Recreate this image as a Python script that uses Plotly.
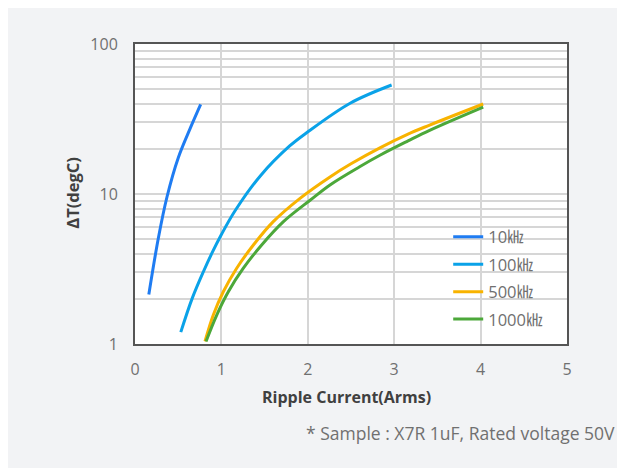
import plotly.graph_objects as go

# ripple current (Arms) vs temperature rise (degC)
i_10k = [0.16, 0.27, 0.37, 0.50, 0.64, 0.76]
t_10k = [2.14, 5.07, 9.55, 17.4, 27.5, 39.6]

i_100k = [0.53, 0.66, 0.79, 0.89, 1.00, 1.16, 1.45, 1.79, 1.99, 2.49, 2.97]
t_100k = [1.20, 2.0, 3.02, 4.03, 5.37, 7.76, 13.2, 20.9, 25.7, 40.3, 53.3]

i_500k = [0.81, 0.906, 1.022, 1.177, 1.37, 1.60, 1.91, 2.257, 2.50, 2.84, 3.16, 3.41, 4.03]
t_500k = [1.04, 1.56, 2.23, 3.2, 4.57, 6.54, 9.36, 13.0, 15.9, 20.4, 25.1, 28.8, 39.8]

i_1000k = [0.822, 0.946, 1.08, 1.254, 1.466, 1.718, 2.03, 2.257, 2.60, 2.84, 3.16, 3.41, 4.03]
t_1000k = [1.04, 1.56, 2.23, 3.2, 4.57, 6.54, 9.12, 11.5, 15.2, 18.2, 22.6, 26.6, 38.0]

names = ["10㎑", "100㎑", "500㎑", "1000㎑"]
colors = ["#1f7cf2", "#0aa2e8", "#f8b300", "#4ca83a"]

FONT = "Open Sans, Noto Sans CJK KR"

fig = go.Figure()
for xs, ys, name, col in zip([i_10k, i_100k, i_500k, i_1000k],
                             [t_10k, t_100k, t_500k, t_1000k], names, colors):
    fig.add_trace(go.Scatter(x=xs, y=ys, name=name, mode="lines", legendgroup=name,
                             line=dict(color=col, width=3, shape="spline")))

# the page body adds 8px on the left/top, margins are set so the plot box lands where the reference has it
fig.update_layout(
    width=625, height=468,
    margin=dict(l=127, r=66, t=36, b=132),
    paper_bgcolor="#f2f3f5", plot_bgcolor="white",
    font=dict(family=FONT, size=15, color="#707070"),
    showlegend=True,
    legend=dict(x=0.725, y=0.415, xanchor="left", yanchor="top",
                bgcolor="rgba(0,0,0,0)", font=dict(size=16.5, color="#707070"),
                tracegroupgap=3),
)

fig.update_xaxes(range=[0, 5], dtick=1, showgrid=True, gridcolor="#d6d6d6", gridwidth=1.5,
                 showline=True, mirror=True, linecolor="#555555", linewidth=2,
                 zeroline=False, ticks="", ticklabelstandoff=10, tickfont=dict(size=16))
fig.update_yaxes(type="log", range=[0, 2], dtick=1, showgrid=True, gridcolor="#d6d6d6",
                 gridwidth=1.5, showline=True, mirror=True, linecolor="#555555", linewidth=2,
                 zeroline=False, ticks="", ticklabelstandoff=12, tickfont=dict(size=16),
                 minor=dict(dtick="D1", showgrid=True, gridcolor="#d6d6d6", gridwidth=1.5, ticks=""))

fig.add_annotation(text="<b>Ripple Current(Arms)</b>", xref="paper", yref="paper",
                   x=0.49, y=-0.22, showarrow=False,
                   font=dict(family=FONT, size=16, color="#404040"))
fig.add_annotation(text="<b>ΔT(degC)</b>", xref="paper", yref="paper",
                   x=-0.178, y=0.503, showarrow=False, textangle=-90,
                   font=dict(family=FONT, size=16.5, color="#404040"))
fig.add_annotation(text="* Sample : X7R 1uF, Rated voltage 50V", xref="paper", yref="paper",
                   x=1.116, y=-0.343, xanchor="right", showarrow=False,
                   font=dict(family=FONT, size=17.5, color="#707070"))

fig.write_html("out.html")
